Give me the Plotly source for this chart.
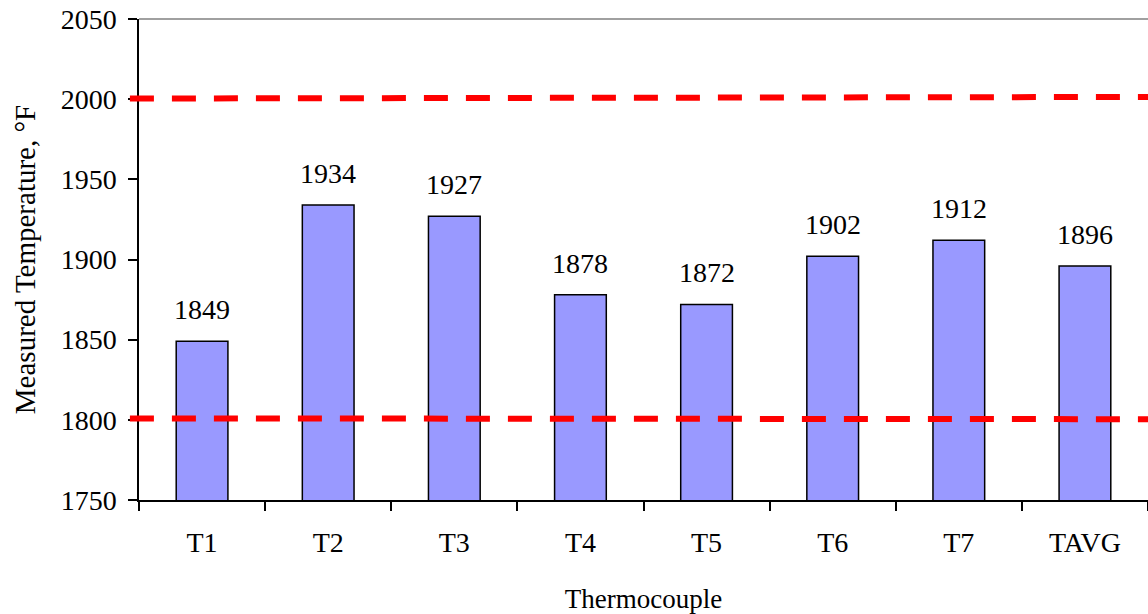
import plotly.graph_objects as go

categories = ["T1", "T2", "T3", "T4", "T5", "T6", "T7", "TAVG"]
temperatures = [1849, 1934, 1927, 1878, 1872, 1902, 1912, 1896]
upper_limit = [2000.4, 2001.4]   # left end, right end
lower_limit = [1800.9, 1800.4]
y_ticks = [1750, 1800, 1850, 1900, 1950, 2000, 2050]

FONT = "Liberation Serif, Times New Roman, serif"

fig = go.Figure()
fig.add_trace(go.Bar(
    x=categories, y=temperatures,
    marker=dict(color="#9999FF", line=dict(color="black", width=1.5)),
    width=0.41, showlegend=False, hoverinfo="skip",
))

for c, v in zip(categories, temperatures):
    fig.add_annotation(x=c, y=v, text=str(v), showarrow=False,
                       yanchor="bottom", yshift=14,
                       font=dict(family=FONT, size=28, color="black"))

for vals in (upper_limit, lower_limit):
    fig.add_shape(type="line", xref="paper", yref="y",
                  x0=-0.009, x1=1.0, y0=vals[0], y1=vals[1],
                  line=dict(color="#FF0000", width=6, dash="24px,18px"),
                  layer="above")

# top border
fig.add_shape(type="line", xref="paper", yref="paper", x0=0, x1=1, y0=1, y1=1,
              line=dict(color="#808080", width=1.5), layer="above")

fig.update_layout(
    width=1148, height=614,
    margin=dict(l=139, r=0, t=19, b=114),
    plot_bgcolor="white", paper_bgcolor="white",
    font=dict(family=FONT, size=28, color="black"),
)
fig.update_xaxes(
    range=[-0.5, 7.5], showline=True, linecolor="black", linewidth=1.5,
    ticks="outside", tickson="boundaries", ticklen=9, tickcolor="black",
    tickwidth=1.5, ticklabelstandoff=17, showgrid=False,
    tickfont=dict(family=FONT, size=28),
    title=dict(text="Thermocouple", font=dict(family=FONT, size=27), standoff=32),
)
fig.update_yaxes(
    range=[1750, 2050], tickvals=y_ticks, showline=True, linecolor="black",
    linewidth=1.5, ticks="outside", ticklen=9, tickcolor="black", tickwidth=1.5,
    ticklabelstandoff=6, showgrid=False, zeroline=False, ticklabeloverflow="allow",
    tickfont=dict(family=FONT, size=28),
    title=dict(text="Measured Temperature, °F", font=dict(family=FONT, size=29), standoff=17),
)

fig.write_html(
    "out.html",
    config={"displayModeBar": False},
    post_script="document.body.style.margin='0';document.body.style.overflow='hidden';",
)
